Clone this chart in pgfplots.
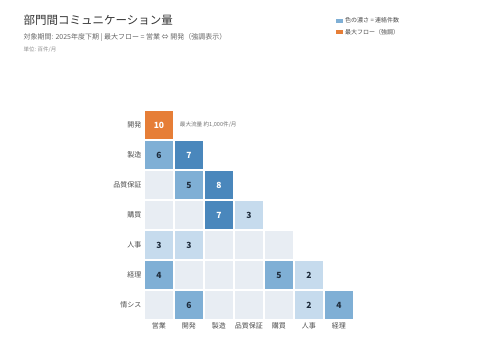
\documentclass[border=0pt]{standalone}
\usepackage{pgfplots}
\pgfplotsset{compat=1.18}
\usepackage{fontspec}
\setmainfont{Noto Sans CJK JP}
\definecolor{cE}{HTML}{E8EDF3}
\definecolor{cA}{HTML}{C6DBED}
\definecolor{cB}{HTML}{7FAFD5}
\definecolor{cC}{HTML}{4A87BC}
\definecolor{cO}{HTML}{E67E37}
\definecolor{txt}{HTML}{1F2D3D}
\begin{document}
\begin{tikzpicture}
\path[use as bounding box] (0pt,0pt) rectangle (480pt,360pt);
\node[anchor=west,font=\fontsize{11.5}{13}\selectfont,text=black!80] at (20pt,340pt) {部門間コミュニケーション量};
\node[anchor=west,font=\fontsize{7}{9}\selectfont,text=black!60] at (20pt,323pt) {対象期間: 2025年度下期 | 最大フロー = 営業 ⇔ 開発（強調表示）};
\node[anchor=west,font=\fontsize{5.5}{7}\selectfont,text=black!45] at (20pt,310pt) {単位: 百件/月};
\begin{axis}[
  at={(144pt,40pt)}, anchor=south west,
  scale only axis, width=210pt, height=210pt,
  xmin=-0.5, xmax=6.5, ymin=-0.5, ymax=6.5,
  axis line style={draw=none}, tick style={draw=none},
  xtick={0,...,6}, xticklabels={営業,開発,製造,品質保証,購買,人事,経理},
  ytick={0,...,6}, yticklabels={情シス,経理,人事,購買,品質保証,製造,開発},
  ticklabel style={font=\fontsize{7}{8}\selectfont, text=black!70},
  xticklabel style={yshift=1pt},
  yticklabel style={xshift=1pt},
  clip=false,
  legend style={at={(0.9,1.46)}, anchor=north west, draw=none, fill=none,
    font=\fontsize{6}{7}\selectfont, text=black!70, row sep=1pt,
    legend cell align=left},
  legend image code/.code={\fill[#1, draw=none] (0pt,-2pt) rectangle (7pt,2pt);},
]
\addplot[scatter, only marks, mark=square*, mark size=13.9pt,
  scatter/classes={
    e={mark=square*, draw=cE, fill=cE},
    a={mark=square*, draw=cA, fill=cA},
    b={mark=square*, draw=cB, fill=cB},
    c={mark=square*, draw=cC, fill=cC},
    o={mark=square*, draw=cO, fill=cO}},
  mark options={line width=0pt},
  point meta=explicit symbolic, forget plot]
table[meta=c] {
x y c
0 6 o
0 5 b
1 5 c
0 4 e
1 4 b
2 4 c
0 3 e
1 3 e
2 3 c
3 3 a
0 2 a
1 2 a
2 2 e
3 2 e
4 2 e
0 1 b
1 1 e
2 1 e
3 1 e
4 1 b
5 1 a
0 0 e
1 0 b
2 0 e
3 0 e
4 0 e
5 0 a
6 0 b
};
\addplot[only marks, mark=none, nodes near coords, point meta=explicit symbolic,
  nodes near coords style={anchor=center, font=\fontsize{8.5}{10}\selectfont\bfseries, text=txt}, forget plot]
table[meta=v] {
x y v
0 5 6
1 4 5
3 3 3
0 2 3
1 2 3
0 1 4
4 1 5
5 1 2
1 0 6
5 0 2
6 0 4
};
\addplot[only marks, mark=none, nodes near coords, point meta=explicit symbolic,
  nodes near coords style={anchor=center, font=\fontsize{8.5}{10}\selectfont\bfseries, text=white}, forget plot]
table[meta=v] {
x y v
0 6 10
1 5 7
2 4 8
2 3 7
};
\node[anchor=west, font=\fontsize{5.6}{7}\selectfont, text=black!55] at (axis cs:0.58,6) {最大流量 約1,000件/月};
\addlegendimage{fill=cB}
\addlegendentry{色の濃さ = 連絡件数}
\addlegendimage{fill=cO}
\addlegendentry{最大フロー（強調）}
\end{axis}
\end{tikzpicture}
\end{document}
